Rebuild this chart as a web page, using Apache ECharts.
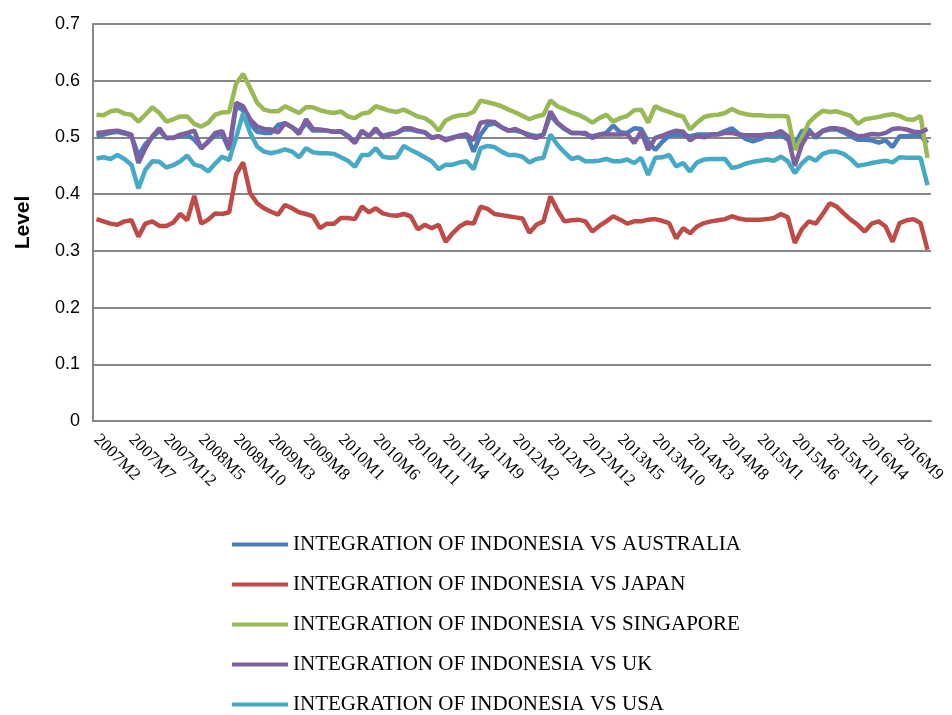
<!DOCTYPE html>
<html>
<head>
<meta charset="utf-8">
<title>Integration of Indonesia</title>
<script src="https://cdn.jsdelivr.net/npm/echarts@6/dist/echarts.min.js"></script>
<style>
  html, body { margin: 0; padding: 0; background: #fff; }
  #chart { width: 952px; height: 715px; }
</style>
</head>
<body>
<div id="chart"></div>
<script>
// months 2007M2 .. 2017M1
const months = []
for (let y = 2007; y <= 2017; y++) {
  for (let m = 1; m <= 12; m++) {
    if (y === 2007 && m < 2) continue
    if (y === 2017 && m > 1) continue
    months.push(y + 'M' + m)
  }
}

const yTicks = [0, 0.1, 0.2, 0.3, 0.4, 0.5, 0.6, 0.7]

const australia = [
  0.503, 0.505, 0.508, 0.510, 0.507, 0.503, 0.468, 0.488, 0.500, 0.512, 0.499, 0.500, 0.502, 0.505, 0.496, 0.482, 0.492, 0.504, 0.506, 0.478,
  0.555, 0.548, 0.525, 0.510, 0.508, 0.508, 0.522, 0.525, 0.518, 0.510, 0.525, 0.512, 0.512, 0.512, 0.510, 0.510, 0.503, 0.492, 0.510, 0.503,
  0.512, 0.503, 0.506, 0.508, 0.514, 0.514, 0.511, 0.509, 0.500, 0.502, 0.497, 0.500, 0.503, 0.505, 0.475, 0.505, 0.522, 0.525, 0.518, 0.512,
  0.512, 0.509, 0.505, 0.502, 0.505, 0.540, 0.525, 0.515, 0.508, 0.508, 0.506, 0.502, 0.505, 0.508, 0.521, 0.509, 0.508, 0.516, 0.515, 0.493,
  0.478, 0.492, 0.503, 0.505, 0.504, 0.502, 0.505, 0.505, 0.505, 0.506, 0.511, 0.516, 0.506, 0.497, 0.493, 0.497, 0.503, 0.502, 0.505, 0.496,
  0.488, 0.511, 0.514, 0.499, 0.511, 0.514, 0.514, 0.509, 0.502, 0.496, 0.496, 0.495, 0.491, 0.495, 0.483, 0.502, 0.502, 0.504, 0.503, 0.490
]
const japan = [
  0.356, 0.352, 0.348, 0.346, 0.352, 0.354, 0.325, 0.348, 0.352, 0.344, 0.344, 0.350, 0.365, 0.354, 0.397, 0.348, 0.355, 0.366, 0.365, 0.368,
  0.435, 0.456, 0.402, 0.384, 0.375, 0.369, 0.364, 0.381, 0.375, 0.368, 0.365, 0.361, 0.340, 0.348, 0.348, 0.358, 0.358, 0.356, 0.378, 0.368,
  0.375, 0.366, 0.363, 0.362, 0.365, 0.361, 0.338, 0.346, 0.340, 0.346, 0.316, 0.331, 0.343, 0.350, 0.348, 0.378, 0.374, 0.365, 0.363, 0.361,
  0.359, 0.357, 0.332, 0.346, 0.352, 0.396, 0.372, 0.352, 0.354, 0.355, 0.352, 0.334, 0.344, 0.352, 0.361, 0.355, 0.348, 0.352, 0.352, 0.355,
  0.356, 0.353, 0.349, 0.322, 0.340, 0.331, 0.343, 0.349, 0.352, 0.354, 0.356, 0.361, 0.357, 0.355, 0.355, 0.355, 0.356, 0.358, 0.365, 0.359,
  0.314, 0.338, 0.352, 0.348, 0.365, 0.384, 0.378, 0.366, 0.355, 0.346, 0.334, 0.348, 0.352, 0.343, 0.316, 0.349, 0.354, 0.356, 0.349, 0.302
]
const singapore = [
  0.540, 0.539, 0.546, 0.548, 0.542, 0.540, 0.528, 0.540, 0.553, 0.543, 0.528, 0.532, 0.537, 0.537, 0.524, 0.519, 0.526, 0.540, 0.544, 0.545,
  0.595, 0.612, 0.587, 0.561, 0.549, 0.546, 0.546, 0.555, 0.549, 0.543, 0.553, 0.553, 0.548, 0.545, 0.543, 0.546, 0.537, 0.534, 0.542, 0.544,
  0.555, 0.551, 0.547, 0.545, 0.549, 0.543, 0.537, 0.534, 0.526, 0.512, 0.530, 0.536, 0.539, 0.540, 0.545, 0.565, 0.562, 0.559, 0.555, 0.549,
  0.544, 0.538, 0.532, 0.537, 0.540, 0.565, 0.555, 0.550, 0.544, 0.540, 0.534, 0.526, 0.534, 0.540, 0.528, 0.534, 0.538, 0.548, 0.549, 0.526,
  0.555, 0.549, 0.545, 0.540, 0.537, 0.514, 0.526, 0.536, 0.539, 0.540, 0.543, 0.550, 0.544, 0.541, 0.539, 0.539, 0.538, 0.538, 0.538, 0.537,
  0.478, 0.499, 0.526, 0.538, 0.547, 0.545, 0.546, 0.542, 0.538, 0.524, 0.532, 0.534, 0.536, 0.539, 0.541, 0.538, 0.532, 0.531, 0.538, 0.464
]
const uk = [
  0.508, 0.509, 0.511, 0.512, 0.509, 0.505, 0.455, 0.481, 0.502, 0.516, 0.499, 0.499, 0.505, 0.508, 0.512, 0.480, 0.493, 0.508, 0.511, 0.480,
  0.561, 0.555, 0.532, 0.519, 0.515, 0.514, 0.509, 0.525, 0.518, 0.506, 0.532, 0.515, 0.514, 0.512, 0.510, 0.511, 0.502, 0.490, 0.512, 0.502,
  0.516, 0.500, 0.505, 0.508, 0.516, 0.516, 0.512, 0.509, 0.499, 0.502, 0.495, 0.499, 0.503, 0.505, 0.495, 0.526, 0.528, 0.527, 0.518, 0.512,
  0.515, 0.509, 0.502, 0.499, 0.505, 0.546, 0.526, 0.516, 0.508, 0.508, 0.508, 0.499, 0.505, 0.505, 0.505, 0.505, 0.506, 0.490, 0.511, 0.478,
  0.499, 0.503, 0.508, 0.512, 0.510, 0.495, 0.503, 0.500, 0.505, 0.505, 0.508, 0.508, 0.505, 0.504, 0.504, 0.504, 0.505, 0.506, 0.511, 0.502,
  0.450, 0.487, 0.508, 0.503, 0.512, 0.516, 0.516, 0.514, 0.508, 0.502, 0.503, 0.506, 0.505, 0.508, 0.515, 0.516, 0.514, 0.510, 0.509, 0.515
]
const usa = [
  0.463, 0.465, 0.462, 0.469, 0.462, 0.452, 0.410, 0.443, 0.458, 0.457, 0.447, 0.451, 0.458, 0.468, 0.452, 0.449, 0.440, 0.454, 0.466, 0.460,
  0.500, 0.543, 0.508, 0.484, 0.475, 0.472, 0.475, 0.479, 0.475, 0.465, 0.481, 0.474, 0.472, 0.472, 0.471, 0.465, 0.459, 0.448, 0.469, 0.469,
  0.481, 0.466, 0.464, 0.465, 0.485, 0.478, 0.472, 0.465, 0.458, 0.444, 0.452, 0.452, 0.456, 0.458, 0.444, 0.481, 0.485, 0.483, 0.475, 0.469,
  0.469, 0.466, 0.456, 0.462, 0.464, 0.505, 0.487, 0.474, 0.462, 0.465, 0.458, 0.458, 0.459, 0.462, 0.458, 0.458, 0.461, 0.455, 0.464, 0.434,
  0.464, 0.465, 0.469, 0.449, 0.455, 0.440, 0.456, 0.461, 0.462, 0.462, 0.462, 0.446, 0.449, 0.454, 0.457, 0.459, 0.461, 0.459, 0.466, 0.458,
  0.437, 0.454, 0.465, 0.459, 0.471, 0.475, 0.475, 0.471, 0.462, 0.450, 0.452, 0.455, 0.457, 0.459, 0.456, 0.465, 0.464, 0.464, 0.464, 0.416
]

const seriesNames = [
  'INTEGRATION OF INDONESIA VS AUSTRALIA',
  'INTEGRATION OF INDONESIA VS JAPAN',
  'INTEGRATION OF INDONESIA VS SINGAPORE',
  'INTEGRATION OF INDONESIA VS UK',
  'INTEGRATION OF INDONESIA VS USA'
]
const seriesData = [australia, japan, singapore, uk, usa]
const colors = ['#4a7ebb', '#be4b48', '#98b954', '#7d60a0', '#46aac5']

const gridColor = '#878787'

const chart = echarts.init(document.getElementById('chart'))
chart.setOption({
  animation: false,
  color: colors,
  grid: { left: 93, right: 21, top: 24, bottom: 294, containLabel: false },
  legend: {
    orient: 'vertical',
    left: 232,
    top: 534,
    height: 240,
    padding: 0,
    itemWidth: 56,
    itemHeight: 4,
    itemGap: 19,
    icon: 'rect',
    textStyle: { fontFamily: 'Liberation Serif', fontSize: 21, color: '#000' },
    data: seriesNames
  },
  xAxis: {
    type: 'category',
    data: months,
    boundaryGap: true,
    axisLine: { lineStyle: { color: gridColor, width: 2 } },
    axisTick: { show: false },
    axisLabel: {
      interval: 4,
      rotate: -45,
      margin: 16,
      fontFamily: 'Liberation Serif',
      fontSize: 17,
      color: '#000'
    }
  },
  yAxis: {
    type: 'value',
    min: yTicks[0],
    max: yTicks[yTicks.length - 1],
    interval: 0.1,
    name: 'Level',
    nameLocation: 'middle',
    nameGap: 59,
    nameTextStyle: { fontFamily: 'Liberation Sans', fontSize: 21, fontWeight: 'bold', color: '#000' },
    axisLine: { show: true, lineStyle: { color: gridColor, width: 2 } },
    axisTick: { show: false },
    axisLabel: {
      margin: 13,
      fontFamily: 'Liberation Sans',
      fontSize: 18,
      color: '#000',
      formatter: (v) => String(Math.round(v * 10) / 10)
    },
    splitLine: { lineStyle: { color: gridColor, width: 2 } }
  },
  series: seriesNames.map((name, i) => ({
    name: name,
    type: 'line',
    data: seriesData[i],
    symbol: 'none',
    lineStyle: { width: 4.5, color: colors[i] },
    itemStyle: { color: colors[i] }
  }))
})
</script>
</body>
</html>
